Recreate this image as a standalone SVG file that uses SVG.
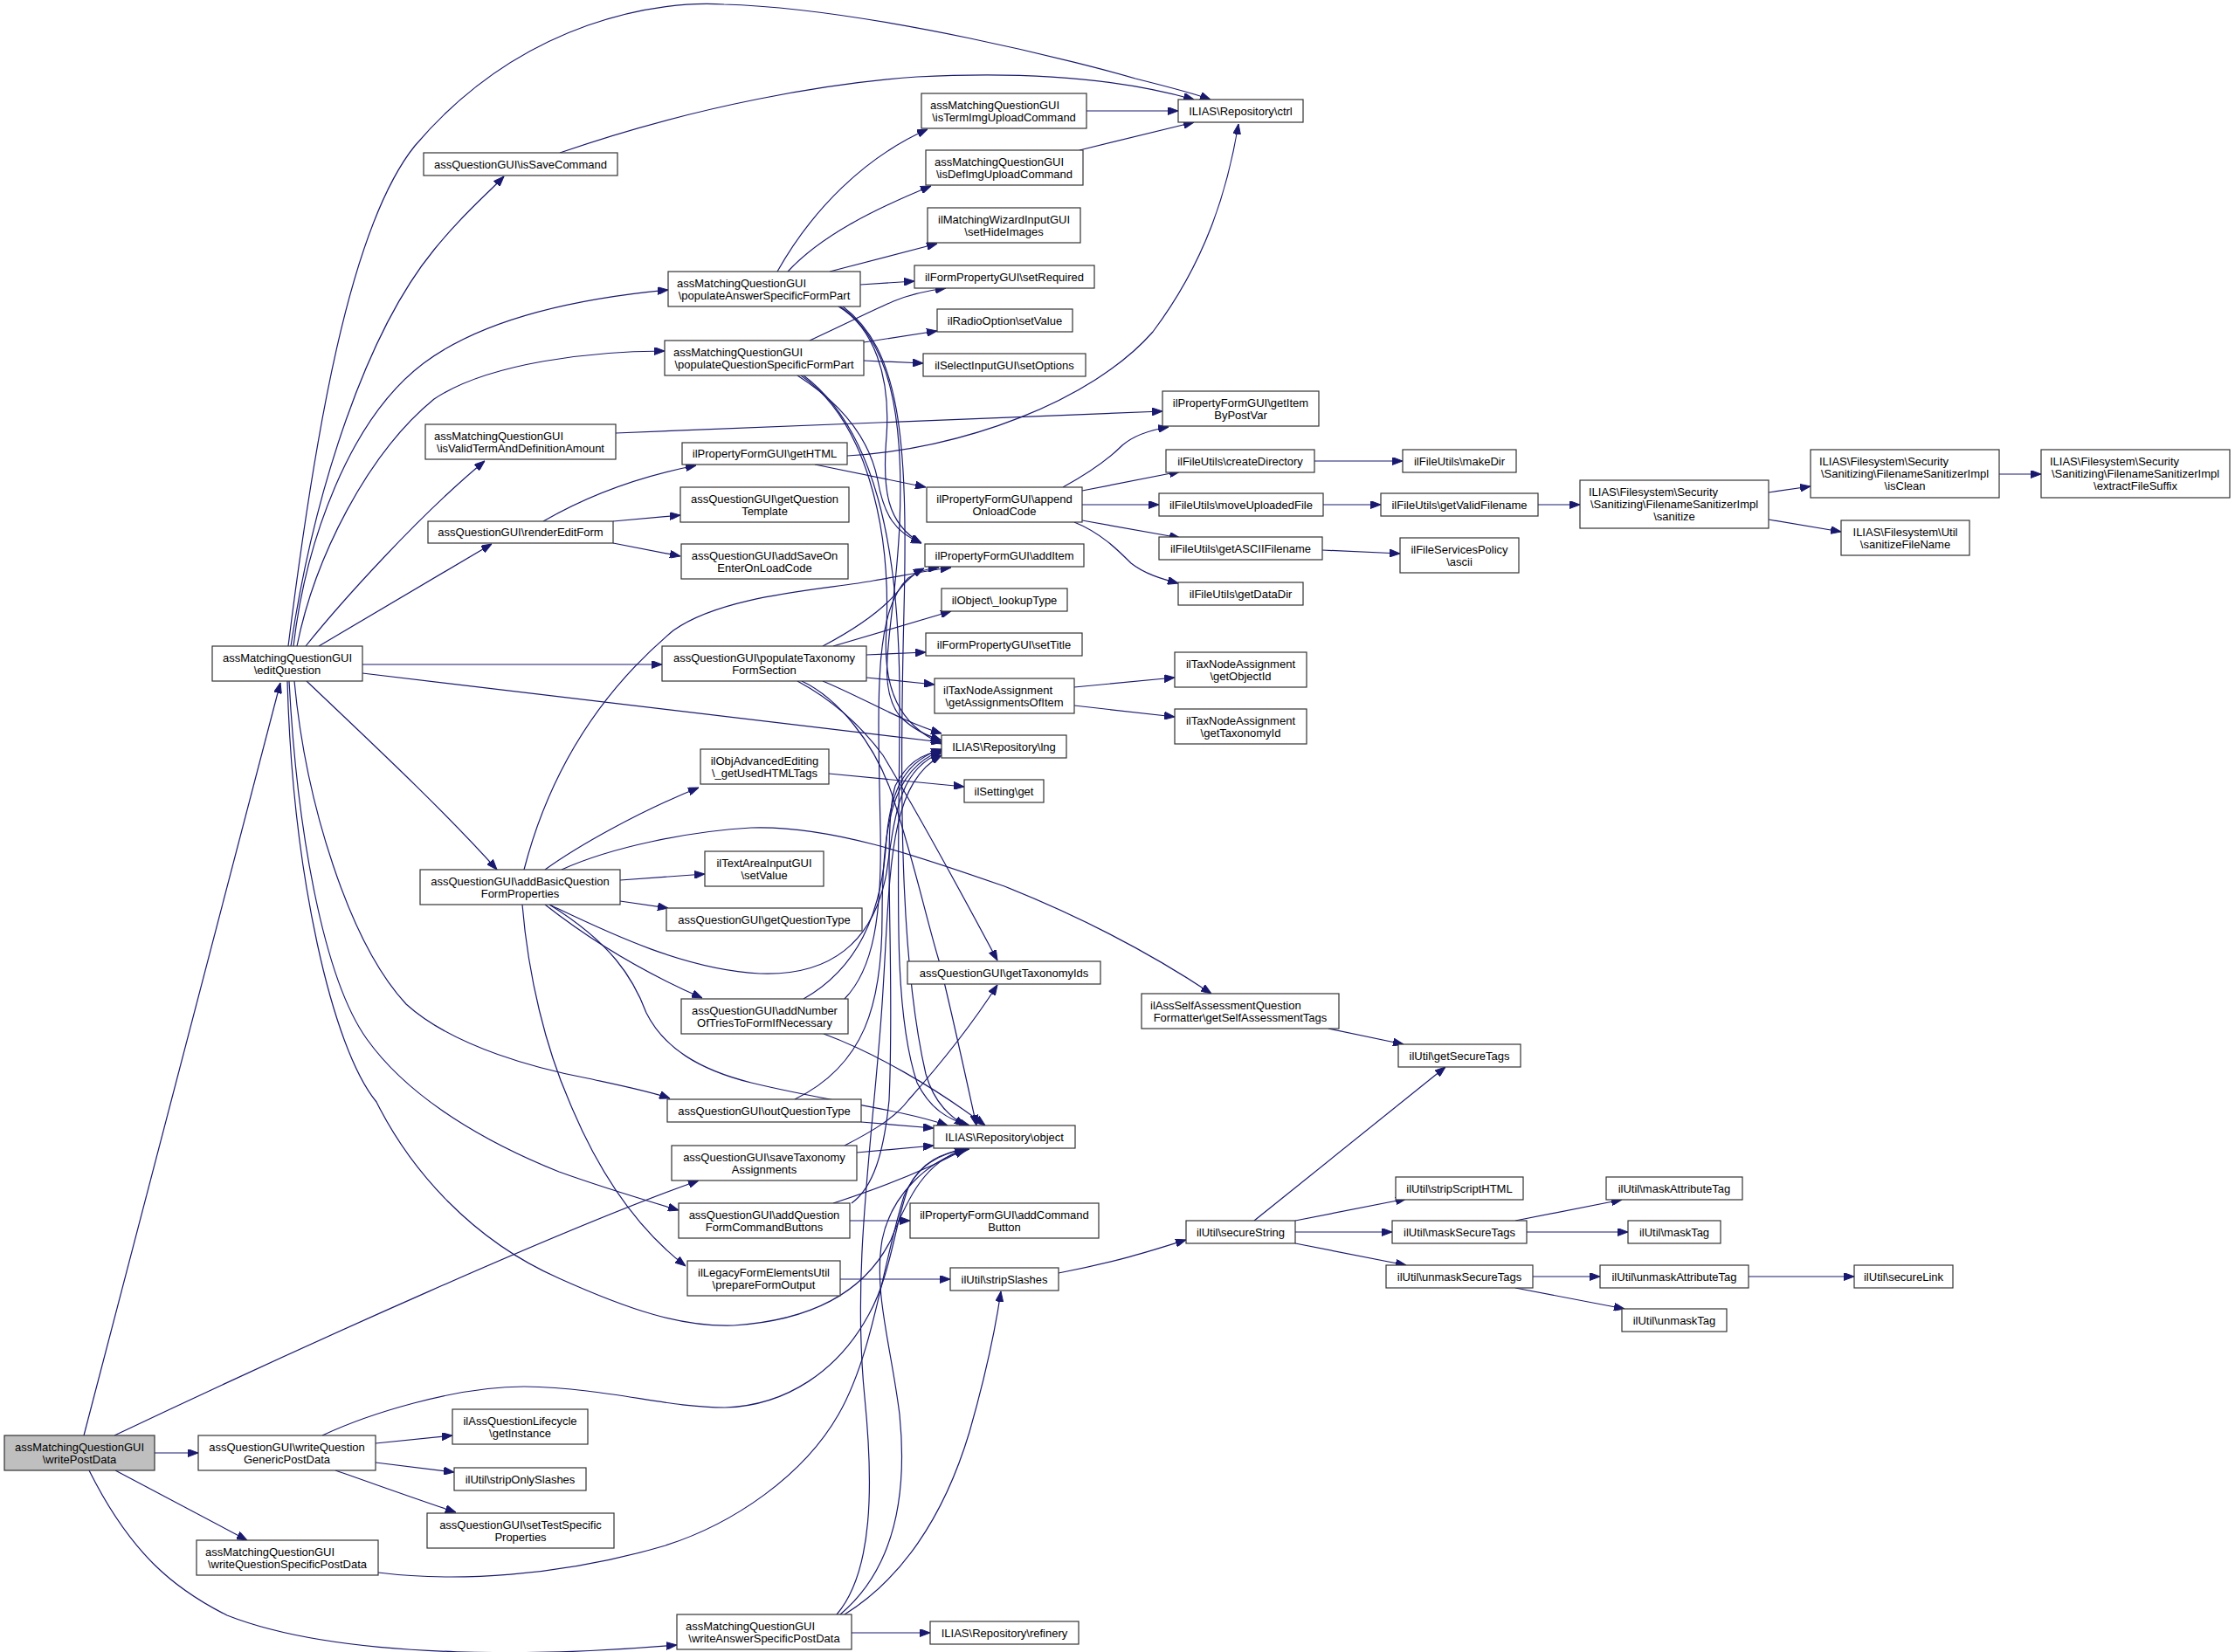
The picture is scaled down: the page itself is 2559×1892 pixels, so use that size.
<svg xmlns="http://www.w3.org/2000/svg" width="2559" height="1892" viewBox="0 0 2559 1892">
<defs>
<marker id="arr" viewBox="0 0 12 9" refX="12" refY="4.5" markerWidth="12" markerHeight="9" markerUnits="userSpaceOnUse" orient="auto">
<path d="M0,0 L12,4.5 L0,9 z" fill="#191970" stroke="#191970" stroke-width="1"/>
</marker>
</defs>
<style>
.n rect{fill:#fff;stroke:#333;stroke-width:1.2}
.n.root rect{fill:#bfbfbf}
.n text{font-family:"Liberation Sans",Arial,Helvetica,sans-serif;font-size:13px;fill:#000}
.c{text-anchor:middle}
.l{text-anchor:start}
#edges path{fill:none;stroke:#191970;stroke-width:1.2;marker-end:url(#arr)}
</style>
<rect x="0" y="0" width="2559" height="1892" fill="#fff"/>
<g id="edges">
<path d="M96,1644 L321,782"/>
<path d="M131,1644 C350,1540 650,1405 800,1352"/>
<path d="M177,1664 L227,1664"/>
<path d="M132,1684 L283,1764"/>
<path d="M102,1684 C150,1780 200,1820 260,1850 C400,1905 650,1895 775,1884"/>
<path d="M330,740 C360,500 400,260 475,167 C600,20 760,0 829,5 C1000,10 1250,75 1300,90 C1340,100 1370,108 1386,114"/>
<path d="M333,740 C360,560 420,380 497,286 C530,245 555,225 577,202"/>
<path d="M336,740 C350,620 400,480 485,416 C560,360 680,340 765,332"/>
<path d="M340,740 C360,640 420,520 497,457 C560,415 680,402 761,402"/>
<path d="M350,740 C390,690 480,590 555,528"/>
<path d="M365,740 L563,623"/>
<path d="M415,761 L758,761"/>
<path d="M415,771 L1078,850"/>
<path d="M351,780 C430,855 510,930 569,996"/>
<path d="M337,780 C350,920 400,1080 465,1150 C520,1200 620,1225 673,1235 C710,1243 745,1250 767,1258"/>
<path d="M331,780 C340,950 370,1120 420,1190 C470,1260 560,1310 640,1342 C690,1360 730,1372 777,1386"/>
<path d="M329,780 C335,1000 380,1200 431,1262 C470,1340 540,1420 640,1464 C720,1500 780,1520 840,1518 C930,1512 990,1480 1020,1420 C1040,1370 1060,1330 1105,1316"/>
<path d="M890,311 C930,240 990,180 1062,148"/>
<path d="M902,311 C940,270 1000,240 1066,213"/>
<path d="M950,311 L1073,279"/>
<path d="M985,326 L1047,322"/>
<path d="M960,351 C1000,375 1020,430 1015,500 C1010,560 1015,600 1055,622"/>
<path d="M962,351 C1020,390 1035,480 1030,600 C1025,720 1000,780 1030,820 C1045,835 1060,842 1078,848"/>
<path d="M965,351 C1030,400 1040,500 1035,700 C1030,900 1030,1100 1060,1230 C1070,1265 1090,1280 1105,1289"/>
<path d="M927,390 C970,370 1000,355 1023,345 C1040,338 1060,333 1083,330"/>
<path d="M989,392 L1073,379"/>
<path d="M989,413 L1057,416"/>
<path d="M913,430 C960,460 995,500 1005,550 C1012,590 1025,610 1055,622"/>
<path d="M917,430 C990,480 1020,600 1015,720 C1010,790 1030,830 1078,852"/>
<path d="M920,430 C1000,490 1030,620 1030,800 C1030,1000 1020,1150 1050,1240 C1065,1270 1085,1282 1110,1289"/>
<path d="M942,740 C980,720 1010,700 1030,675 C1040,662 1048,656 1058,651"/>
<path d="M954,740 L1089,700"/>
<path d="M992,750 L1060,747"/>
<path d="M992,776 L1070,784"/>
<path d="M942,780 C990,800 1030,825 1078,840"/>
<path d="M913,780 C950,800 985,830 1011,865 C1050,930 1110,1040 1142,1100"/>
<path d="M918,780 C960,800 1000,850 1020,906 C1045,980 1060,1050 1075,1100 C1090,1160 1105,1230 1118,1289"/>
<path d="M600,996 C630,880 690,790 771,722 C830,680 950,675 1000,665 C1040,658 1070,652 1089,650"/>
<path d="M624,996 C660,970 730,930 800,902"/>
<path d="M643,996 C700,970 790,952 860,948 C950,945 1050,980 1150,1015 C1250,1055 1330,1100 1387,1138"/>
<path d="M710,1008 L807,1001"/>
<path d="M710,1032 L765,1040"/>
<path d="M624,1036 C680,1080 740,1115 804,1143"/>
<path d="M629,1036 C690,1065 780,1110 870,1115 C950,1118 1000,1080 1015,1000 C1025,930 1030,880 1078,862"/>
<path d="M629,1036 C700,1080 725,1120 740,1160 C760,1200 800,1225 860,1240 C950,1262 1030,1270 1085,1289"/>
<path d="M598,1036 C605,1120 625,1200 652,1262 C680,1330 720,1400 785,1450"/>
<path d="M920,1144 C980,1110 1010,1050 1015,960 C1020,900 1040,870 1078,858"/>
<path d="M967,1144 C1000,1110 1010,1050 1008,950 C1005,800 1000,700 1040,662 C1050,655 1060,651 1075,650"/>
<path d="M943,1184 C1000,1205 1070,1245 1128,1289"/>
<path d="M986,1285 L1069,1292"/>
<path d="M910,1259 C990,1220 1010,1150 1010,1050 C1010,950 1020,880 1078,860"/>
<path d="M981,1320 L1069,1312"/>
<path d="M967,1312 C1000,1295 1025,1280 1040,1260 C1080,1215 1115,1170 1142,1128"/>
<path d="M973,1398 L1042,1398"/>
<path d="M954,1378 C1010,1360 1060,1340 1105,1316"/>
<path d="M975,1378 C1000,1360 1012,1320 1018,1260 C1025,1100 1010,950 1025,900 C1040,870 1060,862 1078,860"/>
<path d="M962,1465 L1088,1465"/>
<path d="M430,1653 L518,1644"/>
<path d="M430,1675 L520,1686"/>
<path d="M384,1684 C430,1700 480,1718 522,1732"/>
<path d="M369,1644 C420,1620 520,1588 600,1588 C700,1590 760,1612 830,1612 C900,1610 960,1570 995,1505 C1020,1460 1025,1400 1040,1360 C1055,1330 1080,1320 1105,1316"/>
<path d="M433,1801 C520,1812 640,1806 762,1770 C840,1745 920,1690 960,1620 C1000,1550 1010,1450 1035,1370 C1050,1335 1075,1320 1110,1316"/>
<path d="M975,1870 L1065,1870"/>
<path d="M967,1849 C1030,1810 1080,1740 1110,1640 C1130,1570 1140,1520 1146,1479"/>
<path d="M962,1849 C1020,1800 1040,1720 1030,1620 C1020,1540 1000,1480 1010,1420 C1020,1370 1060,1330 1108,1316"/>
<path d="M958,1849 C1000,1800 1000,1700 990,1600 C975,1450 1000,1300 1010,1150 C1020,1000 1015,900 1078,865"/>
<path d="M641,175 C800,120 950,95 1050,88 C1200,80 1300,95 1367,114"/>
<path d="M1244,127 L1349,127"/>
<path d="M1236,172 L1367,140"/>
<path d="M970,522 C1100,515 1250,460 1320,380 C1380,300 1405,220 1418,142"/>
<path d="M933,532 L1060,558"/>
<path d="M622,597 C660,575 720,548 797,533"/>
<path d="M702,597 L779,590"/>
<path d="M702,622 L779,637"/>
<path d="M705,496 L1331,471"/>
<path d="M1217,558 C1250,540 1270,525 1285,510 C1300,497 1320,492 1338,489"/>
<path d="M1239,562 L1351,540"/>
<path d="M1239,578 L1327,578"/>
<path d="M1239,596 L1351,616"/>
<path d="M1230,598 C1260,610 1280,630 1295,645 C1310,657 1330,663 1349,668"/>
<path d="M1505,528 L1606,528"/>
<path d="M1515,578 L1581,578"/>
<path d="M1761,578 L1809,578"/>
<path d="M2025,564 L2073,557"/>
<path d="M2025,595 L2108,609"/>
<path d="M2289,543 L2337,543"/>
<path d="M1514,630 L1603,634"/>
<path d="M1230,787 L1345,776"/>
<path d="M1230,808 L1345,821"/>
<path d="M949,886 L1104,901"/>
<path d="M1521,1178 L1607,1196"/>
<path d="M1436,1398 L1655,1222"/>
<path d="M1483,1398 L1610,1373"/>
<path d="M1483,1411 L1594,1411"/>
<path d="M1483,1424 L1610,1449"/>
<path d="M1735,1398 L1857,1374"/>
<path d="M1748,1411 L1864,1411"/>
<path d="M1755,1462 L1832,1462"/>
<path d="M1735,1475 L1860,1499"/>
<path d="M2002,1462 L2123,1462"/>
<path d="M1212,1458 C1280,1445 1320,1432 1358,1420"/>
</g>
<g id="writePostData" class="n root"><rect x="5" y="1644" width="172" height="40"/><text class="c" x="91" y="1661.5">assMatchingQuestionGUI</text><text class="c" x="91" y="1675.5">\writePostData</text></g>
<g id="editQuestion" class="n"><rect x="243" y="740" width="172" height="40"/><text class="c" x="329" y="757.5">assMatchingQuestionGUI</text><text class="c" x="329" y="771.5">\editQuestion</text></g>
<g id="isSaveCommand" class="n"><rect x="485" y="175" width="222" height="26"/><text class="c" x="596" y="192.5">assQuestionGUI\isSaveCommand</text></g>
<g id="populateAnswerSpecificFormPart" class="n"><rect x="765" y="311" width="220" height="40"/><text class="l" x="775" y="328.5">assMatchingQuestionGUI</text><text class="c" x="875" y="342.5">\populateAnswerSpecificFormPart</text></g>
<g id="populateQuestionSpecificFormPart" class="n"><rect x="761" y="390" width="228" height="40"/><text class="l" x="771" y="407.5">assMatchingQuestionGUI</text><text class="c" x="875" y="421.5">\populateQuestionSpecificFormPart</text></g>
<g id="isValidTermAndDefinitionAmount" class="n"><rect x="487" y="486" width="218" height="40"/><text class="l" x="497" y="503.5">assMatchingQuestionGUI</text><text class="c" x="596" y="517.5">\isValidTermAndDefinitionAmount</text></g>
<g id="getHTML" class="n"><rect x="781" y="507" width="189" height="25"/><text class="c" x="875.5" y="524">ilPropertyFormGUI\getHTML</text></g>
<g id="getQuestionTemplate" class="n"><rect x="779" y="558" width="193" height="40"/><text class="c" x="875.5" y="575.5">assQuestionGUI\getQuestion</text><text class="c" x="875.5" y="589.5">Template</text></g>
<g id="renderEditForm" class="n"><rect x="490" y="597" width="212" height="25"/><text class="c" x="596" y="614">assQuestionGUI\renderEditForm</text></g>
<g id="addSaveOnEnterOnLoadCode" class="n"><rect x="780" y="623" width="191" height="40"/><text class="c" x="875.5" y="640.5">assQuestionGUI\addSaveOn</text><text class="c" x="875.5" y="654.5">EnterOnLoadCode</text></g>
<g id="populateTaxonomyFormSection" class="n"><rect x="758" y="740" width="234" height="40"/><text class="c" x="875" y="757.5">assQuestionGUI\populateTaxonomy</text><text class="c" x="875" y="771.5">FormSection</text></g>
<g id="getUsedHTMLTags" class="n"><rect x="802" y="858" width="147" height="40"/><text class="c" x="875.5" y="875.5">ilObjAdvancedEditing</text><text class="c" x="875.5" y="889.5">\_getUsedHTMLTags</text></g>
<g id="addBasicQuestionFormProperties" class="n"><rect x="481" y="996" width="229" height="40"/><text class="c" x="595.5" y="1013.5">assQuestionGUI\addBasicQuestion</text><text class="c" x="595.5" y="1027.5">FormProperties</text></g>
<g id="textAreaSetValue" class="n"><rect x="807" y="975" width="136" height="40"/><text class="c" x="875" y="992.5">ilTextAreaInputGUI</text><text class="c" x="875" y="1006.5">\setValue</text></g>
<g id="getQuestionType" class="n"><rect x="763" y="1040" width="224" height="26"/><text class="c" x="875" y="1057.5">assQuestionGUI\getQuestionType</text></g>
<g id="addNumberOfTries" class="n"><rect x="780" y="1144" width="191" height="40"/><text class="c" x="875.5" y="1161.5">assQuestionGUI\addNumber</text><text class="c" x="875.5" y="1175.5">OfTriesToFormIfNecessary</text></g>
<g id="outQuestionType" class="n"><rect x="764" y="1259" width="222" height="26"/><text class="c" x="875" y="1276.5">assQuestionGUI\outQuestionType</text></g>
<g id="saveTaxonomyAssignments" class="n"><rect x="769" y="1312" width="212" height="40"/><text class="c" x="875" y="1329.5">assQuestionGUI\saveTaxonomy</text><text class="c" x="875" y="1343.5">Assignments</text></g>
<g id="addQuestionFormCommandButtons" class="n"><rect x="777" y="1378" width="196" height="40"/><text class="c" x="875" y="1395.5">assQuestionGUI\addQuestion</text><text class="c" x="875" y="1409.5">FormCommandButtons</text></g>
<g id="prepareFormOutput" class="n"><rect x="787" y="1444" width="175" height="40"/><text class="c" x="874.5" y="1461.5">ilLegacyFormElementsUtil</text><text class="c" x="874.5" y="1475.5">\prepareFormOutput</text></g>
<g id="writeQuestionGenericPostData" class="n"><rect x="227" y="1644" width="203" height="40"/><text class="c" x="328.5" y="1661.5">assQuestionGUI\writeQuestion</text><text class="c" x="328.5" y="1675.5">GenericPostData</text></g>
<g id="lifecycleGetInstance" class="n"><rect x="518" y="1614" width="155" height="40"/><text class="c" x="595.5" y="1631.5">ilAssQuestionLifecycle</text><text class="c" x="595.5" y="1645.5">\getInstance</text></g>
<g id="stripOnlySlashes" class="n"><rect x="520" y="1681" width="151" height="26"/><text class="c" x="595.5" y="1698.5">ilUtil\stripOnlySlashes</text></g>
<g id="setTestSpecificProperties" class="n"><rect x="489" y="1733" width="214" height="40"/><text class="c" x="596" y="1750.5">assQuestionGUI\setTestSpecific</text><text class="c" x="596" y="1764.5">Properties</text></g>
<g id="writeQuestionSpecificPostData" class="n"><rect x="225" y="1764" width="208" height="40"/><text class="l" x="235" y="1781.5">assMatchingQuestionGUI</text><text class="c" x="329" y="1795.5">\writeQuestionSpecificPostData</text></g>
<g id="writeAnswerSpecificPostData" class="n"><rect x="775" y="1849" width="200" height="40"/><text class="l" x="785" y="1866.5">assMatchingQuestionGUI</text><text class="c" x="875" y="1880.5">\writeAnswerSpecificPostData</text></g>
<g id="isTermImgUploadCommand" class="n"><rect x="1055" y="107" width="189" height="40"/><text class="l" x="1065" y="124.5">assMatchingQuestionGUI</text><text class="c" x="1149.5" y="138.5">\isTermImgUploadCommand</text></g>
<g id="isDefImgUploadCommand" class="n"><rect x="1060" y="172" width="180" height="40"/><text class="l" x="1070" y="189.5">assMatchingQuestionGUI</text><text class="c" x="1150" y="203.5">\isDefImgUploadCommand</text></g>
<g id="setHideImages" class="n"><rect x="1062" y="238" width="175" height="40"/><text class="c" x="1149.5" y="255.5">ilMatchingWizardInputGUI</text><text class="c" x="1149.5" y="269.5">\setHideImages</text></g>
<g id="setRequired" class="n"><rect x="1047" y="304" width="206" height="26"/><text class="c" x="1150" y="321.5">ilFormPropertyGUI\setRequired</text></g>
<g id="radioSetValue" class="n"><rect x="1073" y="354" width="155" height="26"/><text class="c" x="1150.5" y="371.5">ilRadioOption\setValue</text></g>
<g id="setOptions" class="n"><rect x="1057" y="405" width="186" height="26"/><text class="c" x="1150" y="422.5">ilSelectInputGUI\setOptions</text></g>
<g id="ctrl" class="n"><rect x="1349" y="114" width="143" height="26"/><text class="c" x="1420.5" y="131.5">ILIAS\Repository\ctrl</text></g>
<g id="appendOnloadCode" class="n"><rect x="1061" y="558" width="178" height="40"/><text class="c" x="1150" y="575.5">ilPropertyFormGUI\append</text><text class="c" x="1150" y="589.5">OnloadCode</text></g>
<g id="getItemByPostVar" class="n"><rect x="1331" y="448" width="179" height="40"/><text class="c" x="1420.5" y="465.5">ilPropertyFormGUI\getItem</text><text class="c" x="1420.5" y="479.5">ByPostVar</text></g>
<g id="createDirectory" class="n"><rect x="1335" y="515" width="170" height="26"/><text class="c" x="1420" y="532.5">ilFileUtils\createDirectory</text></g>
<g id="makeDir" class="n"><rect x="1606" y="515" width="130" height="26"/><text class="c" x="1671" y="532.5">ilFileUtils\makeDir</text></g>
<g id="moveUploadedFile" class="n"><rect x="1327" y="565" width="188" height="26"/><text class="c" x="1421" y="582.5">ilFileUtils\moveUploadedFile</text></g>
<g id="getValidFilename" class="n"><rect x="1581" y="565" width="180" height="26"/><text class="c" x="1671" y="582.5">ilFileUtils\getValidFilename</text></g>
<g id="sanitize" class="n"><rect x="1809" y="550" width="216" height="55"/><text class="l" x="1819" y="568">ILIAS\Filesystem\Security</text><text class="c" x="1917" y="582">\Sanitizing\FilenameSanitizerImpl</text><text class="c" x="1917" y="596">\sanitize</text></g>
<g id="isClean" class="n"><rect x="2073" y="515" width="216" height="55"/><text class="l" x="2083" y="533">ILIAS\Filesystem\Security</text><text class="c" x="2181" y="547">\Sanitizing\FilenameSanitizerImpl</text><text class="c" x="2181" y="561">\isClean</text></g>
<g id="extractFileSuffix" class="n"><rect x="2337" y="515" width="216" height="55"/><text class="l" x="2347" y="533">ILIAS\Filesystem\Security</text><text class="c" x="2445" y="547">\Sanitizing\FilenameSanitizerImpl</text><text class="c" x="2445" y="561">\extractFileSuffix</text></g>
<g id="sanitizeFileName" class="n"><rect x="2108" y="596" width="147" height="40"/><text class="c" x="2181.5" y="613.5">ILIAS\Filesystem\Util</text><text class="c" x="2181.5" y="627.5">\sanitizeFileName</text></g>
<g id="getASCIIFilename" class="n"><rect x="1327" y="615" width="187" height="26"/><text class="c" x="1420.5" y="632.5">ilFileUtils\getASCIIFilename</text></g>
<g id="policyAscii" class="n"><rect x="1603" y="616" width="136" height="40"/><text class="c" x="1671" y="633.5">ilFileServicesPolicy</text><text class="c" x="1671" y="647.5">\ascii</text></g>
<g id="getDataDir" class="n"><rect x="1349" y="667" width="143" height="26"/><text class="c" x="1420.5" y="684.5">ilFileUtils\getDataDir</text></g>
<g id="addItem" class="n"><rect x="1059" y="623" width="182" height="26"/><text class="c" x="1150" y="640.5">ilPropertyFormGUI\addItem</text></g>
<g id="lookupType" class="n"><rect x="1078" y="674" width="144" height="26"/><text class="c" x="1150" y="691.5">ilObject\_lookupType</text></g>
<g id="setTitle" class="n"><rect x="1060" y="725" width="179" height="26"/><text class="c" x="1149.5" y="742.5">ilFormPropertyGUI\setTitle</text></g>
<g id="getAssignmentsOfItem" class="n"><rect x="1070" y="777" width="160" height="40"/><text class="l" x="1080" y="794.5">ilTaxNodeAssignment</text><text class="c" x="1150" y="808.5">\getAssignmentsOfItem</text></g>
<g id="getObjectId" class="n"><rect x="1345" y="747" width="151" height="40"/><text class="c" x="1420.5" y="764.5">ilTaxNodeAssignment</text><text class="c" x="1420.5" y="778.5">\getObjectId</text></g>
<g id="getTaxonomyId" class="n"><rect x="1345" y="812" width="151" height="40"/><text class="c" x="1420.5" y="829.5">ilTaxNodeAssignment</text><text class="c" x="1420.5" y="843.5">\getTaxonomyId</text></g>
<g id="lng" class="n"><rect x="1078" y="842" width="143" height="26"/><text class="c" x="1149.5" y="859.5">ILIAS\Repository\lng</text></g>
<g id="settingGet" class="n"><rect x="1104" y="893" width="91" height="26"/><text class="c" x="1149.5" y="910.5">ilSetting\get</text></g>
<g id="getTaxonomyIds" class="n"><rect x="1039" y="1101" width="221" height="26"/><text class="c" x="1149.5" y="1118.5">assQuestionGUI\getTaxonomyIds</text></g>
<g id="getSelfAssessmentTags" class="n"><rect x="1307" y="1138" width="226" height="40"/><text class="l" x="1317" y="1155.5">ilAssSelfAssessmentQuestion</text><text class="c" x="1420" y="1169.5">Formatter\getSelfAssessmentTags</text></g>
<g id="getSecureTags" class="n"><rect x="1601" y="1196" width="140" height="26"/><text class="c" x="1671" y="1213.5">ilUtil\getSecureTags</text></g>
<g id="object" class="n"><rect x="1069" y="1289" width="162" height="26"/><text class="c" x="1150" y="1306.5">ILIAS\Repository\object</text></g>
<g id="addCommandButton" class="n"><rect x="1042" y="1378" width="216" height="40"/><text class="c" x="1150" y="1395.5">ilPropertyFormGUI\addCommand</text><text class="c" x="1150" y="1409.5">Button</text></g>
<g id="stripSlashes" class="n"><rect x="1088" y="1452" width="124" height="26"/><text class="c" x="1150" y="1469.5">ilUtil\stripSlashes</text></g>
<g id="secureString" class="n"><rect x="1358" y="1398" width="125" height="26"/><text class="c" x="1420.5" y="1415.5">ilUtil\secureString</text></g>
<g id="stripScriptHTML" class="n"><rect x="1598" y="1348" width="146" height="26"/><text class="c" x="1671" y="1365.5">ilUtil\stripScriptHTML</text></g>
<g id="maskSecureTags" class="n"><rect x="1594" y="1398" width="154" height="26"/><text class="c" x="1671" y="1415.5">ilUtil\maskSecureTags</text></g>
<g id="unmaskSecureTags" class="n"><rect x="1587" y="1449" width="168" height="26"/><text class="c" x="1671" y="1466.5">ilUtil\unmaskSecureTags</text></g>
<g id="maskAttributeTag" class="n"><rect x="1839" y="1348" width="156" height="26"/><text class="c" x="1917" y="1365.5">ilUtil\maskAttributeTag</text></g>
<g id="maskTag" class="n"><rect x="1864" y="1398" width="106" height="26"/><text class="c" x="1917" y="1415.5">ilUtil\maskTag</text></g>
<g id="unmaskAttributeTag" class="n"><rect x="1832" y="1449" width="170" height="26"/><text class="c" x="1917" y="1466.5">ilUtil\unmaskAttributeTag</text></g>
<g id="unmaskTag" class="n"><rect x="1857" y="1499" width="120" height="26"/><text class="c" x="1917" y="1516.5">ilUtil\unmaskTag</text></g>
<g id="secureLink" class="n"><rect x="2123" y="1449" width="113" height="26"/><text class="c" x="2179.5" y="1466.5">ilUtil\secureLink</text></g>
<g id="refinery" class="n"><rect x="1065" y="1857" width="170" height="26"/><text class="c" x="1150" y="1874.5">ILIAS\Repository\refinery</text></g>
</svg>
